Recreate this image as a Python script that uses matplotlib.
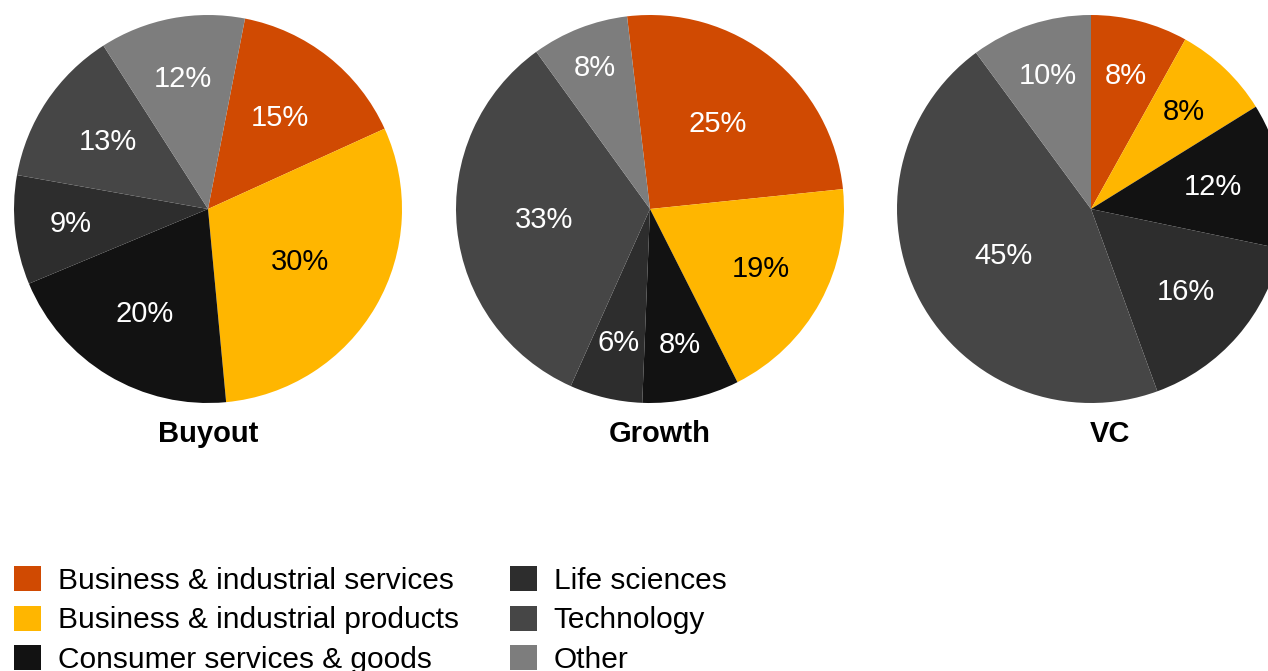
import numpy as np
import matplotlib.pyplot as plt
from matplotlib.patches import Patch

plt.rcParams['font.family'] = ['Liberation Sans', 'DejaVu Sans']

sectors = ['Business & industrial services', 'Business & industrial products',
           'Consumer services & goods', 'Life sciences', 'Technology', 'Other']
colors = ['#D04A02', '#FFB600', '#121212', '#2D2D2D', '#464646', '#7D7D7D']
text_colors = ['white', 'black', 'white', 'white', 'white', 'white']

buyout = [15, 30, 20, 9, 13, 12]
growth = [25, 19, 8, 6, 33, 8]
vc = [8, 8, 12, 16, 45, 10]

# pie name, values, centre x (px), title x (px), start angle, label radii
pies = [
    ('Buyout', buyout, 208, 208, 79, [0.60, 0.55, 0.63, 0.71, 0.62, 0.68]),
    ('Growth', growth, 650, 660, 96.8, [0.56, 0.65, 0.72, 0.71, 0.55, 0.78]),
    ('VC', vc, 1091, 1110, 90, [0.71, 0.69, 0.64, 0.65, 0.51, 0.72]),
]

W, H = 1268, 671
R = 194
cy = 209

fig = plt.figure(figsize=(W / 100, H / 100), dpi=100)

for name, vals, cx, tx, start, radii in pies:
    ax = fig.add_axes([(cx - R) / W, (H - cy - R) / H, 2 * R / W, 2 * R / H])
    wedges, _ = ax.pie(vals, colors=colors, startangle=start, counterclock=False,
                       radius=1, wedgeprops=dict(linewidth=0))
    ax.set_xlim(-1, 1)
    ax.set_ylim(-1, 1)
    ax.set_aspect('equal')
    ax.axis('off')
    for w, v, r, tc in zip(wedges, vals, radii, text_colors):
        mid = np.deg2rad((w.theta1 + w.theta2) / 2)
        ax.text(r * np.cos(mid), r * np.sin(mid), f'{v}%', color=tc,
                fontsize=21, ha='center', va='center')
    fig.text(tx / W, 1 - 434 / H, name, fontsize=21, fontweight='bold',
             ha='center', va='center')

handles = [Patch(facecolor=c, edgecolor='none') for c in colors]
fig.legend(handles, sectors, ncol=2, loc='upper left',
           bbox_to_anchor=(14 / W, 1 - 566 / H), frameon=False, fontsize=21.5,
           handlelength=0.92, handleheight=0.92, handletextpad=0.55,
           labelspacing=0.36, columnspacing=1.7, borderpad=0, borderaxespad=0)

fig.savefig('out.png', dpi=100)
